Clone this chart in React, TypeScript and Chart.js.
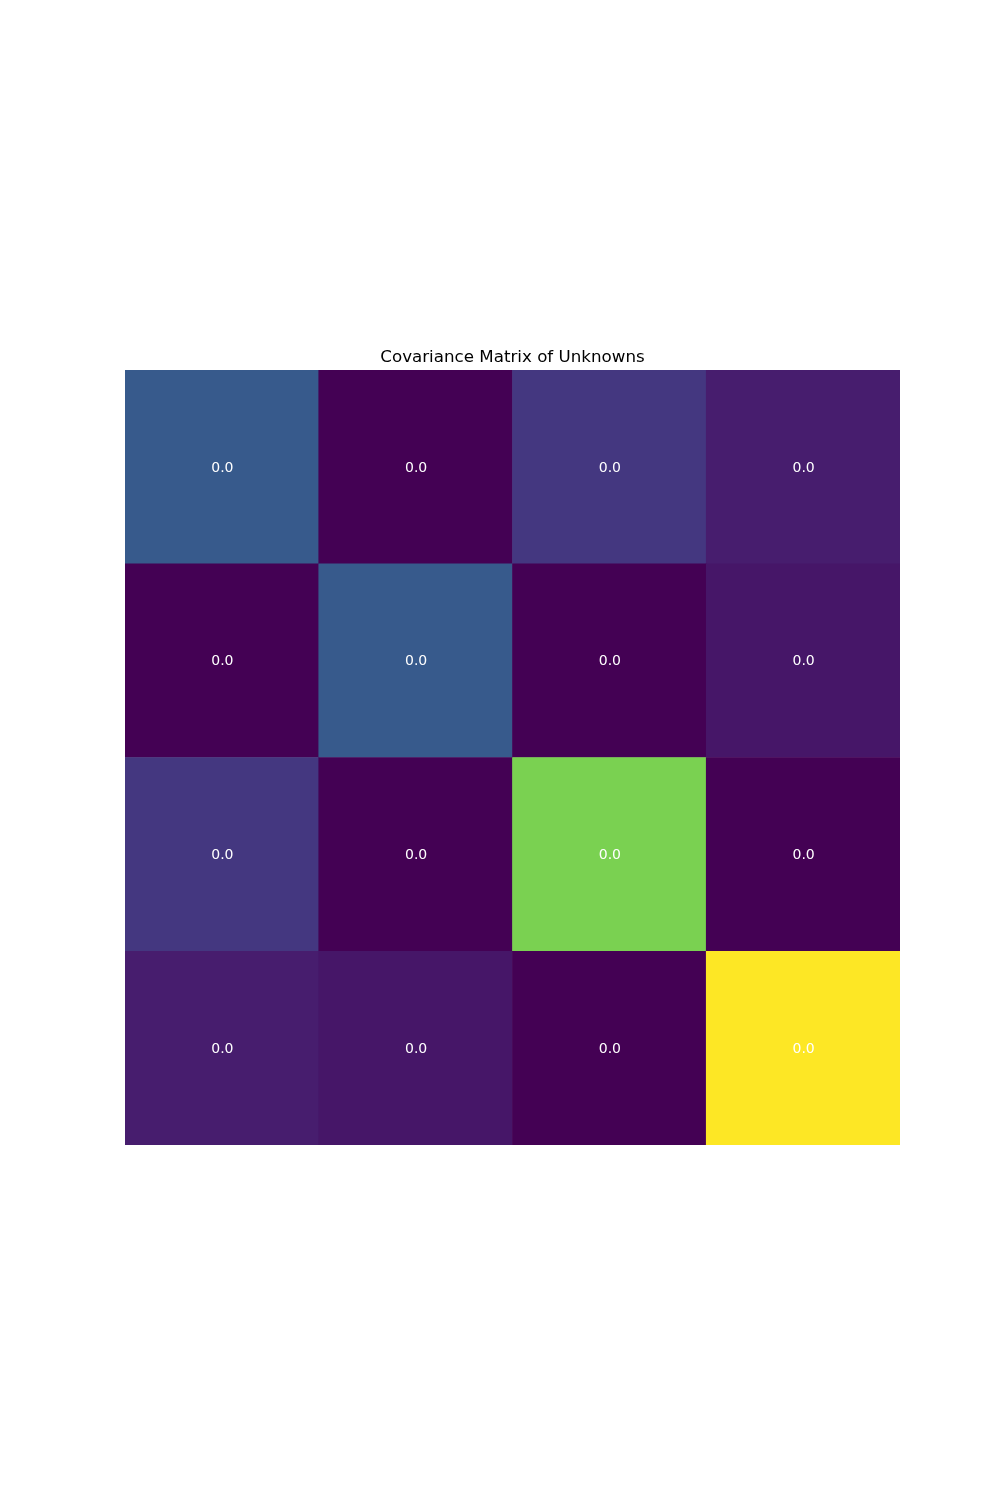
import React, { useEffect, useRef } from "react";
import { Chart, registerables } from "chart.js";

Chart.register(...registerables);

// Covariance matrix values (rows top to bottom, columns left to right)
const columnLabels = ["0", "1", "2", "3"];
const rowLabels = ["0", "1", "2", "3"];
const covRow0 = [0.0035, 0.0, 0.002, 0.001];
const covRow1 = [0.0, 0.0035, 0.0, 0.00075];
const covRow2 = [0.002, 0.0, 0.01, 0.0];
const covRow3 = [0.001, 0.00075, 0.0, 0.0125];
const covRows = [covRow0, covRow1, covRow2, covRow3];
const chartTitle = "Covariance Matrix of Unknowns";

// viridis anchor colours
const VIRIDIS = [
  "#440154", "#482475", "#414487", "#355f8d", "#2a788e", "#21918c",
  "#22a884", "#44bf70", "#7ad151", "#bddf26", "#fde725",
];

function hexToRgb(h: string) {
  return [parseInt(h.slice(1, 3), 16), parseInt(h.slice(3, 5), 16), parseInt(h.slice(5, 7), 16)];
}

function viridis(t: number) {
  const tt = Math.max(0, Math.min(1, t)) * (VIRIDIS.length - 1);
  const i = Math.min(VIRIDIS.length - 2, Math.floor(tt));
  const f = tt - i;
  const a = hexToRgb(VIRIDIS[i]);
  const b = hexToRgb(VIRIDIS[i + 1]);
  const c = a.map((v, k) => Math.round(v + (b[k] - v) * f));
  return `rgb(${c[0]},${c[1]},${c[2]})`;
}

export default function App() {
  const ref = useRef<HTMLCanvasElement | null>(null);

  useEffect(() => {
    document.body.style.margin = "0";
    const all = covRows.flat();
    const vmin = Math.min(...all);
    const vmax = Math.max(...all);
    const norm = (v: number) => (v - vmin) / (vmax - vmin);

    // bottom row first for stacking
    const datasets = [3, 2, 1, 0].map((r) => ({
      label: rowLabels[r],
      data: columnLabels.map(() => 1),
      values: covRows[r],
      backgroundColor: covRows[r].map((v) => viridis(norm(v))),
      borderWidth: 0,
      barPercentage: 1,
      categoryPercentage: 1,
    }));

    const labelPlugin = {
      id: "cellLabels",
      afterDatasetsDraw(chart: any) {
        const ctx = chart.ctx;
        ctx.save();
        ctx.fillStyle = "#ffffff";
        ctx.font = "14px 'DejaVu Sans'";
        ctx.textAlign = "center";
        ctx.textBaseline = "middle";
        chart.data.datasets.forEach((ds: any, di: number) => {
          const meta = chart.getDatasetMeta(di);
          meta.data.forEach((el: any, i: number) => {
            const p = el.getProps(["x", "y", "base"], true);
            ctx.fillText(ds.values[i].toFixed(1), p.x + 0.5, (p.y + p.base) / 2 + 1);
          });
        });
        ctx.restore();
      },
    };

    const chart = new Chart(ref.current as HTMLCanvasElement, {
      type: "bar",
      data: { labels: columnLabels, datasets: datasets as any },
      options: {
        animation: false,
        responsive: false,
        maintainAspectRatio: false,
        layout: { padding: { top: 348, left: 125, right: 100, bottom: 355 } },
        plugins: {
          legend: { display: false },
          tooltip: { enabled: false },
          title: {
            display: true,
            text: chartTitle,
            color: "#000000",
            font: { family: "'DejaVu Sans'", size: 16.7, weight: "normal" as any, lineHeight: 1.2 },
            padding: { top: 0, bottom: 2 },
          },
        },
        scales: {
          x: { display: false, stacked: true, offset: true, grid: { display: false } },
          y: { display: false, stacked: true, min: 0, max: 4, grid: { display: false } },
        },
      },
      plugins: [labelPlugin],
    });
    return () => chart.destroy();
  }, []);

  return (
    <div style={{ width: 1000, height: 1500, background: "#ffffff" }}>
      <canvas ref={ref} width={1000} height={1500} />
    </div>
  );
}
